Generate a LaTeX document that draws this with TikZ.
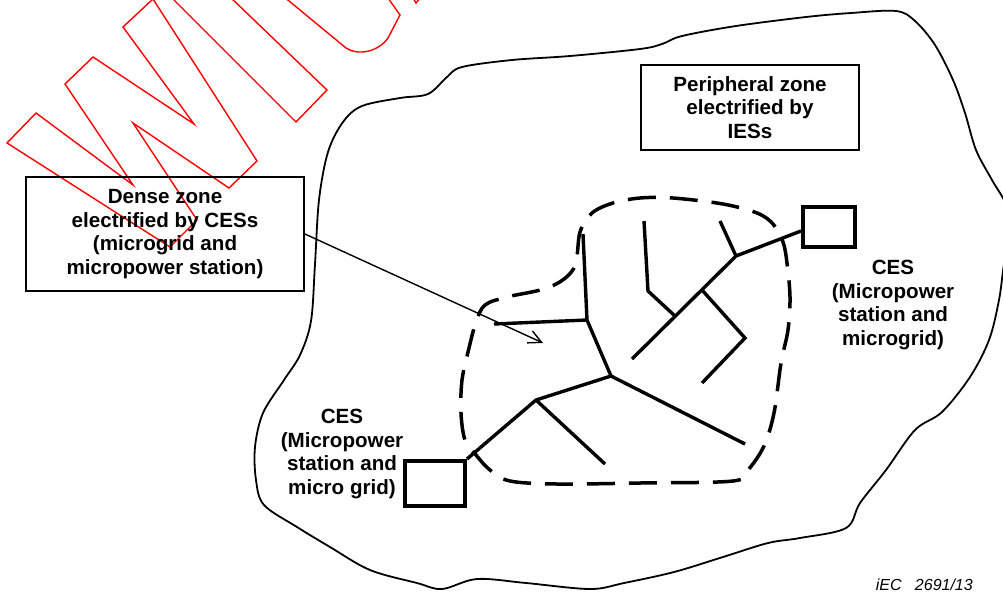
\documentclass[tikz,border=0pt]{standalone}
\usepackage{fontspec}
\setmainfont{Liberation Sans}
\usetikzlibrary{arrows.meta}
\begin{document}
\begin{tikzpicture}[x=1pt,y=-1pt,
  lbl/.style={font=\fontsize{20.6}{23.7}\selectfont\bfseries, align=center, inner sep=0pt},
  tbox/.style={draw, line width=1.8pt, inner sep=0pt},
  cesbox/.style={draw, line width=4pt, inner sep=0pt},
  wire/.style={line width=3.4pt, line join=miter},
  zone/.style={line width=3.5pt, dash pattern=on 28pt off 14pt},
  blob/.style={line width=1.8pt},
  wmark/.style={draw=red, line width=1.4pt, line join=miter},
  pointer/.style={line width=1.4pt, -{Straight Barb[length=13pt,width=13pt,line width=1.4pt]}}]
\useasboundingbox (0,0) rectangle (1003,592);
\begin{scope}
\clip (0,0) rectangle (1003,592);
% watermark outline
\draw[wmark] (7,143) -- (36,113) -- (133,185) -- (65,84) -- (93,57) -- (194,124) -- (123,27) -- (153,-1) -- (257,161) -- (229,188) -- (133,123) -- (197,220) -- (170,247) -- cycle;
\draw[wmark] (228,-5) -- (327,90) -- (296,122) -- (169,-5);
\draw[wmark] (283,-4) -- (346,48) .. controls (358,56) and (378,52) .. (388,38) -- (400,15) -- (388,-2);
\draw[wmark] (413,-2) -- (416,3) -- (420,-2);
% peripheral zone outline
\draw[blob] plot[smooth cycle, tension=0.55] coordinates {
 (462,67) (512,60) (570,56) (640,49) (662,44) (682,36) (736,26) (806,17) (851,13) (896,11)
 (915,21) (935,45) (953,80) (965,113) (976,150) (992,180) (1006,205) (1010,235) (1004,264)
 (999,300) (989,340) (970,377) (942,412) (915,430) (886,470) (860,503) (846,528) (800,538)
 (768,543) (723,557) (674,572) (624,583) (590,589) (526,583) (477,579) (442,589) (417,583)
 (370,570) (330,547) (297,527) (264,505) (256,480) (255,447) (263,413) (284,380) (300,355)
 (311,321) (315,264) (319,200) (328,152) (343,122) (362,106) (400,98) (428,94) (447,77)};
\end{scope}
% dense zone outline
\draw[zone] plot[smooth cycle, tension=0.55] coordinates {
 (580,232) (574,268) (550,287) (507,297) (485,305) (476,322) (469,348) (462,380) (461,413)
 (465,440) (476,455) (490,470) (510,481) (557,484) (640,483) (733,481) (748,470) (764,446)
 (774,413) (781,363) (788,330) (790,297) (787,263) (783,242) (773,224) (757,213) (723,204)
 (673,198) (640,198) (613,203) (592,213)};
% text boxes
\node[tbox, lbl, minimum width=278pt, minimum height=114pt] (dense) at (165,234)
  {Dense zone\\electrified by CESs\\(microgrid and\\micropower station)};
\node[tbox, lbl, minimum width=218pt, minimum height=85pt] (periph) at (750,107.5)
  {Peripheral zone\\electrified by\\IESs};
% CES boxes
\node[cesbox, minimum width=52pt, minimum height=40pt] (cesR) at (829,227) {};
\node[cesbox, minimum width=60pt, minimum height=45pt] (cesL) at (435,483.5) {};
\node[lbl] (cesRtxt) at (893,305) {CES\\(Micropower\\station and\\microgrid)};
\node[lbl] (cesLtxt) at (342,454) {CES\\(Micropower\\station and\\micro grid)};
% tree coordinates
\coordinate (a1) at (536,400);
\coordinate (a2) at (611,376);
\coordinate (a3) at (605,464);
\coordinate (a4) at (587,320);
\coordinate (a5) at (583,234);
\coordinate (a6) at (494,324);
\coordinate (a7) at (745,444);
\coordinate (b0) at (632,359);
\coordinate (b1) at (736,256);
\coordinate (b2) at (720,221);
\coordinate (b3) at (675,316);
\coordinate (b4) at (648,291);
\coordinate (b5) at (644,221);
\coordinate (b6) at (702,290);
\coordinate (b7) at (745,338);
\coordinate (b8) at (702,383);
\coordinate (tip) at (543,343);
% tree lines
\draw[wire] (cesL.north east) -- (a1) -- (a2) -- (a4) -- (a5);
\draw[wire] (a1) -- (a3);
\draw[wire] (a4) -- (a6);
\draw[wire] (a2) -- (a7);
\draw[wire] (b0) -- (b1) -- ([yshift=-4pt]cesR.west);
\draw[wire] (b1) -- (b2);
\draw[wire] (b3) -- (b4) -- (b5);
\draw[wire] (b6) -- (b7) -- (b8);
% pointer
\draw[pointer] (dense.east) -- (tip);
% figure id
\node[font=\fontsize{16}{18}\selectfont\itshape, anchor=base east, inner sep=0pt] (fid) at (973,590) {iEC\ \ \ 2691/13};
\end{tikzpicture}
\end{document}
